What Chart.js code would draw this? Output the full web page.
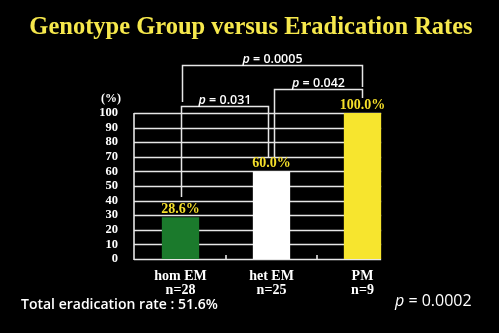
<!DOCTYPE html>
<html>
<head>
<meta charset="utf-8">
<script src="https://cdn.jsdelivr.net/npm/chart.js@4/dist/chart.umd.min.js"></script>
<style>
  html, body { margin: 0; padding: 0; background: #000; }
  #wrap { width: 499px; height: 333px; position: relative; }
</style>
</head>
<body>
<div id="wrap"><canvas id="c"></canvas></div>
<script>
// data
const categories = ['hom EM', 'het EM', 'PM'];
const sampleSizes = ['n=28', 'n=25', 'n=9'];
const eradicationRates = [28.6, 60.0, 100.0];
const rateLabels = ['28.6%', '60.0%', '100.0%'];
const barColors = ['#1b7a2c', '#ffffff', '#f7e52e'];
const yTickValues = [0, 10, 20, 30, 40, 50, 60, 70, 80, 90, 100];

// pairwise comparisons
const pairFrom = [0, 1, 0];
const pairTo = [1, 2, 2];
const pairP = ['0.031', '0.042', '0.0005'];

const titleText = 'Genotype Group versus Eradication Rates';
const totalText = 'Total eradication rate : 51.6%';
const overallP = '0.0002';

const sans = '"Open Sans", "Noto Sans", sans-serif';
const serif = '"Liberation Serif", "DejaVu Serif", serif';

function drawP(ctx, text, x, y, size, align, weight) {
  // italic p then the rest
  const w = weight || '';
  ctx.font = 'italic ' + w + ' ' + size + 'px ' + sans;
  const pw = ctx.measureText('p').width;
  ctx.font = w + ' ' + size + 'px ' + sans;
  const rest = ' = ' + text;
  const rw = ctx.measureText(rest).width;
  let x0 = x;
  if (align === 'center') x0 = x - (pw + rw) / 2;
  ctx.textAlign = 'left';
  ctx.font = 'italic ' + w + ' ' + size + 'px ' + sans;
  ctx.fillText('p', x0, y);
  ctx.font = w + ' ' + size + 'px ' + sans;
  ctx.fillText(rest, x0 + pw, y);
}

const slidePlugin = {
  id: 'slide',
  beforeDatasetsDraw(chart) {
    const ctx = chart.ctx;
    const y = chart.scales.y;
    const area = chart.chartArea;
    const bars = chart.getDatasetMeta(0).data;
    const last = bars[bars.length - 1];
    const right = last.x + last.width / 2;
    ctx.save();
    ctx.strokeStyle = '#e6e6e6';
    ctx.lineWidth = 1.6;
    yTickValues.forEach(v => {
      const py = Math.round(y.getPixelForValue(v)) + 0.5;
      ctx.beginPath();
      ctx.moveTo(area.left - 1, py);
      ctx.lineTo(right, py);
      ctx.stroke();
    });
    // left axis line
    ctx.beginPath();
    ctx.moveTo(area.left - 1, y.getPixelForValue(100));
    ctx.lineTo(area.left - 1, y.getPixelForValue(0) + 1);
    ctx.stroke();
    // category boundary ticks
    const x = chart.scales.x;
    for (let i = 0; i < categories.length - 1; i++) {
      const bx = (x.getPixelForValue(i) + x.getPixelForValue(i + 1)) / 2;
      ctx.beginPath();
      ctx.moveTo(bx, y.getPixelForValue(0));
      ctx.lineTo(bx, y.getPixelForValue(0) - 4);
      ctx.stroke();
    }
    ctx.restore();
  },
  afterDraw(chart) {
    const ctx = chart.ctx;
    const y = chart.scales.y;
    const bars = chart.getDatasetMeta(0).data;
    ctx.save();

    // title
    ctx.fillStyle = '#f6e84c';
    ctx.font = 'bold 24.5px ' + serif;
    ctx.textAlign = 'center';
    ctx.textBaseline = 'alphabetic';
    ctx.fillText(titleText, 251, 34);

    // unit label
    ctx.fillStyle = '#ffffff';
    ctx.font = 'bold 12px ' + serif;
    ctx.textAlign = 'right';
    ctx.fillText('(%)', 121, 102);

    // value labels
    ctx.fillStyle = '#f5df2a';
    ctx.font = 'bold 14px ' + serif;
    ctx.textAlign = 'center';
    bars.forEach((b, i) => {
      ctx.fillText(rateLabels[i], b.x, y.getPixelForValue(eradicationRates[i]) - 4);
    });

    // brackets
    const tops = [106, 89, 65];
    const dropFrom = [197, 157, 102];
    const dropTo = [157, 98, 87];
    const shiftFrom = [0, 2, 1];
    const shiftTo = [-4, -1, -1];
    ctx.strokeStyle = '#e6e6e6';
    ctx.lineWidth = 1.5;
    ctx.fillStyle = '#ffffff';
    for (let k = 0; k < pairP.length; k++) {
      const x1 = Math.round(bars[pairFrom[k]].x + shiftFrom[k]) + 0.5;
      const x2 = Math.round(bars[pairTo[k]].x + shiftTo[k]) + 0.5;
      const t = tops[k] + 0.5;
      ctx.beginPath();
      ctx.moveTo(x1, dropFrom[k]);
      ctx.lineTo(x1, t);
      ctx.lineTo(x2, t);
      ctx.lineTo(x2, dropTo[k]);
      ctx.stroke();
      drawP(ctx, pairP[k], (x1 + x2) / 2, t - 3, 12.5, 'center', '600');
    }

    // footer texts
    ctx.fillStyle = '#ffffff';
    ctx.textAlign = 'left';
    ctx.font = '600 14px ' + sans;
    ctx.fillText(totalText, 21, 309);
    drawP(ctx, overallP, 395, 306, 16, 'left', '');
    ctx.restore();
  }
};

new Chart(document.getElementById('c'), {
  type: 'bar',
  data: {
    labels: categories.map((c, i) => [c, sampleSizes[i]]),
    datasets: [{
      data: eradicationRates,
      backgroundColor: barColors,
      borderWidth: 0,
      barPercentage: 0.41,
      categoryPercentage: 1.0
    }]
  },
  options: {
    responsive: true,
    maintainAspectRatio: false,
    animation: false,
    events: [],
    layout: { padding: { left: 0, top: 113, right: 91, bottom: 0 } },
    plugins: { legend: { display: false }, tooltip: { enabled: false } },
    scales: {
      x: {
        grid: { display: false },
        border: { display: false },
        ticks: {
          color: '#ffffff',
          font: { family: serif, size: 14, weight: 'bold', lineHeight: 0.95 },
          padding: 3,
          maxRotation: 0
        },
        afterFit(scale) { scale.height = 74; }
      },
      y: {
        min: 0,
        max: 100,
        grid: { display: false },
        border: { display: false },
        ticks: {
          stepSize: 10,
          autoSkip: false,
          color: '#ffffff',
          font: { family: serif, size: 12.5, weight: 'bold' },
          padding: 9
        },
        afterFit(scale) { scale.width = 135; }
      }
    }
  },
  plugins: [slidePlugin]
});
</script>
</body>
</html>
